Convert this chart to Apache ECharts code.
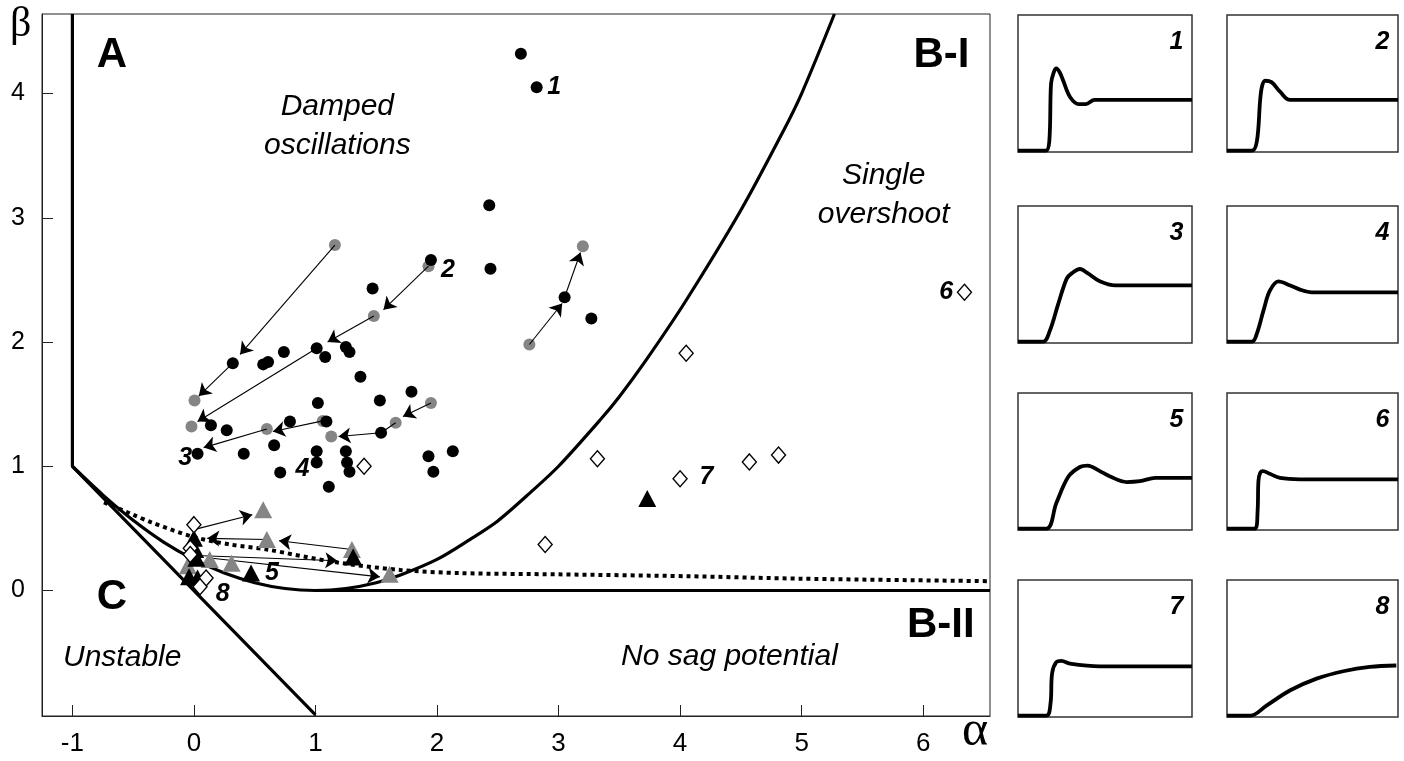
<!DOCTYPE html>
<html><head><meta charset="utf-8">
<script src="https://cdn.jsdelivr.net/npm/echarts@6/dist/echarts.min.js"></script>
<style>html,body{margin:0;padding:0;background:#fff}#c{width:1404px;height:761px}</style>
</head><body><div id="c"></div>
<script>
// ---------- main plot data (alpha, beta) ----------
const xTickValues = [-1, 0, 1, 2, 3, 4, 5, 6];
const yTickValues = [0, 1, 2, 3, 4];

const blackDots = [
  [2.69,4.32],[2.82,4.05],[2.43,3.10],[2.44,2.59],[1.95,2.66],[1.47,2.43],
  [0.32,1.83],[0.57,1.82],[0.61,1.84],[0.74,1.92],[1.01,1.95],[1.08,1.88],
  [1.25,1.96],[1.28,1.92],[1.37,1.72],[1.79,1.60],[1.53,1.53],[1.02,1.51],
  [0.14,1.33],[0.27,1.29],[0.79,1.36],[1.09,1.36],[1.54,1.27],[0.03,1.10],
  [0.41,1.10],[0.66,1.17],[1.01,1.12],[1.01,1.03],[1.25,1.12],[1.26,1.03],
  [1.28,0.955],[0.71,0.95],[1.11,0.835],[1.93,1.08],[1.97,0.955],[2.13,1.12],
  [3.05,2.36],[3.27,2.19]
];
const grayDots = [
  [1.16,2.78],[1.93,2.61],[1.48,2.21],[0.005,1.53],[-0.02,1.32],[0.60,1.30],
  [1.06,1.365],[1.95,1.51],[1.66,1.35],[1.13,1.24],[2.76,1.98],[3.20,2.77]
];
const grayTriangles = [
  [0.57,0.65],[0.60,0.41],[1.30,0.33],[0.13,0.25],[0.31,0.22],[1.61,0.13],[-0.05,0.20]
];
const blackTriangles = [
  [0.00,0.42],[0.01,0.33],[0.02,0.26],[-0.04,0.11],[0.03,0.10],[0.47,0.14],[1.31,0.27],[3.73,0.74]
];
const openDiamonds = [
  [0.00,0.53],[-0.03,0.34],[-0.03,0.29],[0.10,0.10],[0.05,0.03],[1.40,1.00],[4.05,1.91],
  [3.32,1.06],[2.89,0.37],[4.00,0.90],[4.57,1.035],[4.81,1.09],[6.34,2.40]
];
// arrows: [fromAlpha, fromBeta, tipAlpha, tipBeta]
const arrows = [
  [1.16,2.78, 0.38,1.90],
  [0.32,1.83, 0.04,1.565],
  [1.93,2.61, 1.56,2.26],
  [1.48,2.21, 1.10,2.00],
  [1.01,1.95, 0.03,1.36],
  [1.06,1.365, 0.65,1.28],
  [0.60,1.30, 0.08,1.15],
  [1.95,1.51, 1.72,1.40],
  [1.54,1.27, 1.19,1.24],
  [2.76,1.98, 3.03,2.31],
  [3.05,2.36, 3.18,2.72],
  [0.00,0.49, 0.48,0.61],
  [1.30,0.33, 0.70,0.40],
  [0.60,0.41, 0.11,0.42],
  [0.07,0.28, 1.18,0.24],
  [0.15,0.26, 1.53,0.11]
];
const plainSegments = [
  [1.66,1.35, 1.54,1.27]
];
// boundary lines
const wallLine = [[-1,4.64],[-1,1],[1,-1]];
const sagCurve = [
  [-1,1],[-0.75,0.77],[-0.5,0.565],[-0.25,0.39],[0,0.25],[0.25,0.14],[0.5,0.063],
  [0.75,0.016],[1,0],[1.25,0.016],[1.5,0.063],[1.7,0.125],[2,0.25],[2.27,0.41],
  [2.5,0.56],[2.77,0.79],[3,1.0],[3.34,1.37],[3.5,1.56],[3.71,1.84],[4.04,2.32],
  [4.5,3.06],[4.84,3.68],[5.0,4.0],[5.27,4.64]
];
const zeroLine = [[1,0],[6.55,0]];
const dottedCurve = [
  [-0.74,0.71],[-0.5,0.61],[-0.355,0.55],[0,0.43],[0.3,0.37],[0.6,0.33],[1.15,0.23],
  [1.7,0.165],[2.19,0.14],[3,0.13],[4.06,0.115],[5,0.095],[6.55,0.075]
];
// text annotations [text, alpha, beta]
const regionLabels = [['A',-0.675,4.31],['B-I',6.15,4.31],['C',-0.675,-0.055],['B-II',6.145,-0.28]];
const italicLabels = [['Damped\noscillations',1.18,3.74],['Single\novershoot',5.675,3.18],['Unstable',-0.59,-0.54],['No sag potential',4.406,-0.53]];
const numberLabels = [['1',2.965,4.05],['2',2.09,2.575],['3',-0.072,1.064],['4',0.893,0.976],['5',0.643,0.139],['6',6.19,2.40],['7',4.217,0.911],['8',0.236,-0.027]];

// ---------- inset step-response panels (time %, response %) ----------
const panelNames = ['1','2','3','4','5','6','7','8'];
const panel1 = [[0,1],[16,1],[18,8],[19,50],[20.5,58],[22,61],[24,58],[26,52],[30,40],[35,35],[39,35],[44,38],[100,38]];
const panel2 = [[0,1],[14.6,1],[17.5,8],[19.4,38],[20.5,48],[22.3,52],[26,51],[31,44],[36.9,38],[100,38]];
const panel3 = [[0,1],[14.4,1],[18.3,9],[23,28],[28,47],[31,51],[35.6,54],[40,51],[47,45],[56,42],[100,42]];
const panel4 = [[0,1],[14.6,1],[17.5,7],[21.4,24],[25,38],[30,45],[37,42],[42.7,39],[49.5,37],[100,37]];
const panel5 = [[0,1],[16.3,1],[22,19.5],[29,39],[35.6,46],[40,47],[47,43],[53,39],[62.5,35],[70,35.6],[79,38],[100,38]];
const panel6 = [[0,1],[16.5,1],[17.9,14],[18.4,36],[19.5,42],[21,43],[25,41],[31,38],[42.7,37],[100,37]];
const panel7 = [[0,1],[16.3,1],[18.7,10],[19.6,32],[22,40],[25,41],[29.8,39],[47,37],[100,37]];
const panel8 = [[0,1],[13.6,1],[23.3,8.5],[37,19.5],[52.4,28],[68,33.4],[83.5,36.6],[99,37.6]];
const panelData = [panel1,panel2,panel3,panel4,panel5,panel6,panel7,panel8];

// ---------- build chart ----------
const chart = echarts.init(document.getElementById('c'), null, {renderer:'canvas'});
const SANS = 'Liberation Sans, Arial, sans-serif';
const SERIF = 'Liberation Serif, Times New Roman, serif';
const GRAY = '#858585';

const grids = [{left:42, top:14, width:948, height:702, show:true, borderColor:'#222', borderWidth:1, backgroundColor:'transparent'}];
const xAxes = [{
  gridIndex:0, type:'value', min:-1.25, max:6.55,
  axisLine:{show:true, onZero:false, lineStyle:{color:'#222', width:1}},
  axisTick:{show:true, inside:true, length:11, customValues:xTickValues, lineStyle:{color:'#222'}},
  axisLabel:{customValues:xTickValues, fontSize:26, color:'#000', fontFamily:SANS, margin:15},
  splitLine:{show:false}
}];
const yAxes = [{
  gridIndex:0, type:'value', min:-1.01, max:4.64,
  axisLine:{show:true, onZero:false, lineStyle:{color:'#222', width:1}},
  axisTick:{show:true, inside:true, length:11, customValues:yTickValues, lineStyle:{color:'#222'}},
  axisLabel:{customValues:yTickValues, fontSize:25, color:'#000', fontFamily:SANS, margin:17},
  splitLine:{show:false}
}];
const panelLefts = [1018, 1227];
const panelWidths = [174, 171];
const panelTops = [15, 206, 393, 580];
for (let i = 0; i < 8; i++) {
  const c = i % 2, r = Math.floor(i / 2);
  grids.push({left:panelLefts[c], top:panelTops[r], width:panelWidths[c], height:137, show:true, borderColor:'#333', borderWidth:1.5});
  xAxes.push({gridIndex:i+1, type:'value', min:0, max:100, show:false});
  yAxes.push({gridIndex:i+1, type:'value', min:0, max:100, show:false});
}

const series = [];
const boundary = (data, extra) => Object.assign({
  type:'line', data, showSymbol:false, symbol:'none', silent:true, animation:false,
  lineStyle:{color:'#000', width:3.2}, z:2
}, extra || {});
series.push(boundary(wallLine));
series.push(boundary(sagCurve, {smooth:0.3}));
series.push(boundary(zeroLine));
series.push(boundary(dottedCurve, {smooth:0.3, lineStyle:{color:'#000', width:4, type:[4,4]}}));

const solid = (c) => ({color:c, opacity:1});
series.push({
  type:'scatter', data:grayDots, symbol:'circle', symbolSize:12, itemStyle:solid(GRAY), z:4, silent:true, animation:false,
  markLine:{
    silent:true, animation:false, symbol:['none','arrow'], symbolSize:12,
    lineStyle:{color:'#000', width:1.1, type:'solid', opacity:1}, label:{show:false},
    emphasis:{disabled:true},
    data: arrows.map(a => [{coord:[a[0],a[1]]},{coord:[a[2],a[3]]}])
      .concat(plainSegments.map(a => [{coord:[a[0],a[1]], symbol:'none'},{coord:[a[2],a[3]], symbol:'none'}]))
  }
});
series.push({type:'scatter', data:blackDots, symbol:'circle', symbolSize:12, itemStyle:solid('#000'), z:5, silent:true, animation:false});
series.push({type:'scatter', data:grayTriangles, symbol:'triangle', symbolSize:[18,17], itemStyle:solid(GRAY), z:5, silent:true, animation:false});
series.push({type:'scatter', data:blackTriangles, symbol:'triangle', symbolSize:[18,17], itemStyle:solid('#000'), z:6, silent:true, animation:false});
series.push({type:'scatter', data:openDiamonds, symbol:'diamond', symbolSize:[14,16], itemStyle:{color:'#fff', borderColor:'#000', borderWidth:1.4, opacity:1}, z:7, silent:true, animation:false});

const textSeries = (items, style) => ({
  type:'scatter', symbolSize:0, silent:true, animation:false, z:10, itemStyle:{opacity:1},
  data: items.map(t => ({value:[t[1], t[2]], name:t[0]})),
  label:Object.assign({show:true, position:'inside', formatter:p => p.name, color:'#000', opacity:1, align:'center', verticalAlign:'middle', fontFamily:SANS, textBorderWidth:0}, style)
});
series.push(textSeries(regionLabels, {fontSize:42, fontWeight:'bold'}));
series.push(textSeries(italicLabels, {fontSize:30, fontStyle:'italic', lineHeight:39}));
series.push(textSeries(numberLabels, {fontSize:25, fontStyle:'italic', fontWeight:'bold'}));

for (let i = 0; i < 8; i++) {
  series.push({type:'line', xAxisIndex:i+1, yAxisIndex:i+1, data:panelData[i], showSymbol:false, symbol:'none', smooth:0.35, silent:true, animation:false,
    lineStyle:{color:'#000', width:3.8}, z:3});
  series.push({type:'scatter', xAxisIndex:i+1, yAxisIndex:i+1, symbolSize:0, silent:true, animation:false, itemStyle:{opacity:1},
    data:[{value:[95,80], name:panelNames[i]}],
    label:{show:true, position:'inside', formatter:p => p.name, align:'right', verticalAlign:'middle', fontSize:25, fontStyle:'italic', fontWeight:'bold', color:'#000', fontFamily:SANS, textBorderWidth:0}});
}

chart.setOption({
  animation:false,
  backgroundColor:'#fff',
  grid:grids, xAxis:xAxes, yAxis:yAxes, series,
  graphic:[
    {type:'text', left:10, top:4, style:{text:'β', fontSize:42, fontFamily:SERIF, fill:'#000'}},
    {type:'text', left:962, top:707, style:{text:'α', fontSize:50, fontFamily:SERIF, fill:'#000'}}
  ]
});
</script></body></html>
